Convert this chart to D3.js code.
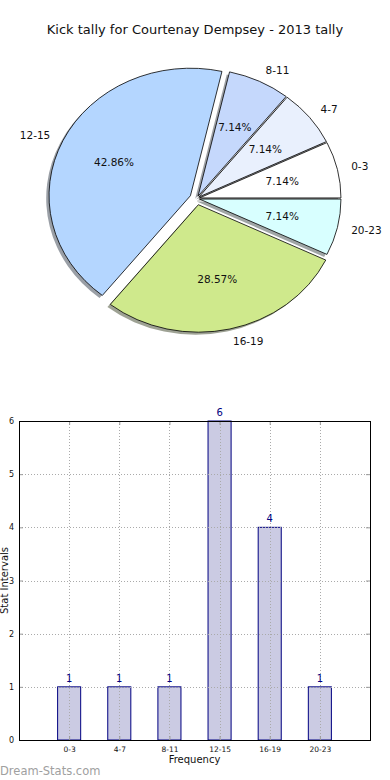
<!DOCTYPE html>
<html>
<head>
<meta charset="utf-8">
<script src="https://cdn.jsdelivr.net/npm/d3@7"></script>
<style>
  html, body { margin: 0; padding: 0; background: #fff; }
  svg { display: block; font-family: "DejaVu Sans", sans-serif; }
</style>
</head>
<body>
<div id="chart"></div>
<script>
(function () {
  'use strict';

  // ── data ──────────────────────────────────────────────
  var categories = ['0-3', '4-7', '8-11', '12-15', '16-19', '20-23'];
  var counts = [1, 1, 1, 6, 4, 1];
  var sliceColors = ['#ffffff', '#e9f0fd', '#c5d8fc', '#b4d6ff', '#cfe98c', '#d8ffff'];
  var explode = [0.02, 0.02, 0.02, 0.05, 0.05, 0.02];
  var yTicks = [0, 1, 2, 3, 4, 5, 6];

  var W = 390, H = 780;
  var svg = d3.select('#chart').append('svg').attr('width', W).attr('height', H);

  svg.append('text')
    .attr('x', 195).attr('y', 34)
    .attr('text-anchor', 'middle')
    .attr('font-size', '13px')
    .attr('fill', '#111')
    .text('Kick tally for Courtenay Dempsey - 2013 tally');

  // ── pie (elliptical, like a non-equal matplotlib axes) ──
  var cx = 196.8, cy = 198.5, rx = 141.4, ry = 127.5;
  var total = d3.sum(counts);

  var slices = d3.pie().sort(null).value(function (d) { return d; })(counts)
    .map(function (a, i) {
      var mid = (a.startAngle + a.endAngle) / 2;
      return {
        i: i,
        a0: a.startAngle, a1: a.endAngle, mid: mid,
        ox: explode[i] * rx * Math.cos(mid),
        oy: -explode[i] * ry * Math.sin(mid)
      };
    });

  // matplotlib angles run ccw from 3 o'clock; d3.arc runs cw from 12 o'clock
  var arc = d3.arc().innerRadius(0).outerRadius(1)
    .startAngle(function (d) { return Math.PI / 2 - d.a1; })
    .endAngle(function (d) { return Math.PI / 2 - d.a0; });

  var pieG = svg.append('g');

  function darker(c) {
    var r = d3.rgb(c);
    return d3.rgb(r.r * 0.3, r.g * 0.3, r.b * 0.3).toString();
  }

  pieG.selectAll('path.shadow')
    .data(slices)
    .enter().append('path')
    .attr('class', 'shadow')
    .attr('transform', function (d) {
      return 'translate(' + (cx + d.ox - 0.02 * rx) + ',' + (cy + d.oy + 0.02 * ry) + ') scale(' + rx + ',' + ry + ')';
    })
    .attr('d', arc)
    .attr('fill', function (d) { return darker(sliceColors[d.i]); })
    .attr('fill-opacity', 0.5);

  pieG.selectAll('path.wedge')
    .data(slices)
    .enter().append('path')
    .attr('class', 'wedge')
    .attr('transform', function (d) {
      return 'translate(' + (cx + d.ox) + ',' + (cy + d.oy) + ') scale(' + rx + ',' + ry + ')';
    })
    .attr('d', arc)
    .attr('fill', function (d) { return sliceColors[d.i]; })
    .attr('stroke', '#000')
    .attr('stroke-width', 0.8)
    .attr('vector-effect', 'non-scaling-stroke');

  pieG.selectAll('text.pct')
    .data(slices)
    .enter().append('text')
    .attr('class', 'pct')
    .attr('x', function (d) { return cx + d.ox + 0.6 * rx * Math.cos(d.mid); })
    .attr('y', function (d) { return cy + d.oy - 0.6 * ry * Math.sin(d.mid); })
    .attr('dy', '0.35em')
    .attr('text-anchor', 'middle')
    .attr('font-size', '10.5px')
    .attr('fill', '#111')
    .text(function (d) { return (counts[d.i] / total * 100).toFixed(2) + '%'; });

  pieG.selectAll('text.lbl')
    .data(slices)
    .enter().append('text')
    .attr('class', 'lbl')
    .attr('x', function (d) { return cx + d.ox + 1.1 * rx * Math.cos(d.mid); })
    .attr('y', function (d) { return cy + d.oy - 1.1 * ry * Math.sin(d.mid); })
    .attr('dy', '0.35em')
    .attr('text-anchor', function (d) { return Math.cos(d.mid) > 0 ? 'start' : 'end'; })
    .attr('font-size', '10.5px')
    .attr('fill', '#111')
    .text(function (d) { return categories[d.i]; });

  // ── bar chart ─────────────────────────────────────────
  var left = 19, right = 370, top = 421, bottom = 740;
  var x = d3.scaleLinear().domain([0, categories.length + 1]).range([left, right]);
  var y = d3.scaleLinear().domain([0, 6]).range([bottom, top]);
  var barW = (x(1) - x(0)) * 0.46;

  var bg = svg.append('g');

  bg.selectAll('rect.bar')
    .data(counts)
    .enter().append('rect')
    .attr('class', 'bar')
    .attr('x', function (d, i) { return x(i + 1) - barW / 2; })
    .attr('y', function (d) { return y(d); })
    .attr('width', barW)
    .attr('height', function (d) { return y(0) - y(d); })
    .attr('fill', '#cbcbe3')
    .attr('stroke', '#000080')
    .attr('stroke-width', 1);

  // grid lines (drawn over bars, as in the reference)
  var gridStyle = function (sel) {
    sel.attr('stroke', '#aaa').attr('stroke-width', 1).attr('stroke-dasharray', '1,2');
  };
  bg.selectAll('line.vgrid')
    .data(categories)
    .enter().append('line')
    .attr('class', 'vgrid')
    .attr('x1', function (d, i) { return Math.round(x(i + 1)) + 0.5; })
    .attr('x2', function (d, i) { return Math.round(x(i + 1)) + 0.5; })
    .attr('y1', top).attr('y2', bottom)
    .call(gridStyle);
  bg.selectAll('line.hgrid')
    .data(yTicks)
    .enter().append('line')
    .attr('class', 'hgrid')
    .attr('x1', left).attr('x2', right)
    .attr('y1', function (d) { return Math.round(y(d)) + 0.5; })
    .attr('y2', function (d) { return Math.round(y(d)) + 0.5; })
    .call(gridStyle);

  // axes with inward ticks on all four sides
  var xAxis = d3.axisBottom(x).tickValues(d3.range(1, categories.length + 1))
    .tickFormat(function (d) { return categories[d - 1]; })
    .tickSizeInner(-4).tickSizeOuter(0).tickPadding(7);
  var yAxis = d3.axisLeft(y).tickValues(yTicks).tickFormat(d3.format('d'))
    .tickSizeInner(-4).tickSizeOuter(0).tickPadding(7);

  var gx = bg.append('g').attr('transform', 'translate(0,' + bottom + ')').call(xAxis);
  var gy = bg.append('g').attr('transform', 'translate(' + left + ',0)').call(yAxis);
  bg.append('g').attr('transform', 'translate(0,' + top + ')')
    .call(d3.axisTop(x).tickValues(d3.range(1, categories.length + 1)).tickFormat('').tickSizeInner(-4).tickSizeOuter(0));
  bg.append('g').attr('transform', 'translate(' + right + ',0)')
    .call(d3.axisRight(y).tickValues(yTicks).tickFormat('').tickSizeInner(-4).tickSizeOuter(0));

  bg.selectAll('.domain').remove();
  bg.selectAll('.tick line').attr('stroke', '#999');
  gx.selectAll('text').attr('font-size', '7.5px').attr('fill', '#111').attr('font-family', 'DejaVu Sans');
  gy.selectAll('text').attr('font-size', '8px').attr('fill', '#111').attr('font-family', 'DejaVu Sans').attr('dx', '2px');

  bg.append('rect')
    .attr('x', left + 0.5).attr('y', top + 0.5)
    .attr('width', right - left).attr('height', bottom - top)
    .attr('fill', 'none').attr('stroke', '#000').attr('stroke-width', 1);

  bg.selectAll('text.val')
    .data(counts)
    .enter().append('text')
    .attr('class', 'val')
    .attr('x', function (d, i) { return x(i + 1); })
    .attr('y', function (d) { return y(d) - 5; })
    .attr('text-anchor', 'middle')
    .attr('font-size', '10px')
    .attr('fill', '#000080')
    .text(function (d) { return d; });

  svg.append('text')
    .attr('x', (left + right) / 2).attr('y', 763)
    .attr('text-anchor', 'middle')
    .attr('font-size', '10px')
    .attr('fill', '#111')
    .text('Frequency');

  svg.append('text')
    .attr('transform', 'translate(8,' + (top + bottom) / 2 + ') rotate(-90)')
    .attr('text-anchor', 'middle')
    .attr('font-size', '10px')
    .attr('fill', '#111')
    .text('Stat Intervals');

  svg.append('text')
    .attr('x', 0).attr('y', 775)
    .attr('font-size', '11.5px')
    .attr('fill', '#a0a0a0')
    .text('Dream-Stats.com');
})();
</script>
</body>
</html>
